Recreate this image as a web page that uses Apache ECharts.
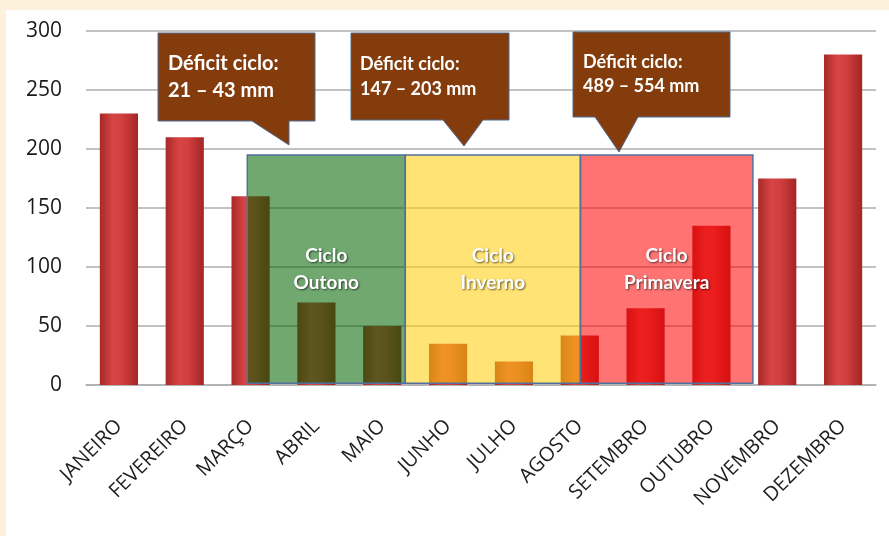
<!DOCTYPE html>
<html>
<head>
<meta charset="utf-8">
<script src="https://cdn.jsdelivr.net/npm/echarts@6/dist/echarts.min.js"></script>
<style>
html,body{margin:0;padding:0;background:#FDF1DC;}
#chart{width:889px;height:536px;}
</style>
</head>
<body>
<div id="chart"></div>
<script>
// ---- data ----
var months = ['JANEIRO','FEVEREIRO','MARÇO','ABRIL','MAIO','JUNHO','JULHO','AGOSTO','SETEMBRO','OUTUBRO','NOVEMBRO','DEZEMBRO'];
var rainfall = [230, 210, 160, 70, 50, 35, 20, 42, 65, 135, 175, 280];
var yTicks = [0, 50, 100, 150, 200, 250, 300];

// cycle overlays (positions along the months axis, 0..12, and height in mm)
var cycleNames = ['Ciclo\nOutono', 'Ciclo\nInverno', 'Ciclo\nPrimavera'];
var cycleStart = [2.45, 4.85, 7.51];
var cycleEnd   = [4.85, 7.51, 10.13];
var cycleTop   = [195, 195, 195];
var cycleBottom = 1.5;

// deficit callouts
var deficitTitle = ['Déficit ciclo:', 'Déficit ciclo:', 'Déficit ciclo:'];
var deficitRange = ['21 – 43 mm', '147 – 203 mm', '489 – 554 mm'];

var cycleColors = ['rgba(0,100,0,0.56)', 'rgba(255,205,10,0.57)', 'rgba(255,0,0,0.55)'];

var chart = echarts.init(document.getElementById('chart'), null, {renderer:'canvas'});

var barColor = new echarts.graphic.LinearGradient(0,0,1,0,[
  {offset:0, color:'#A82828'},
  {offset:0.35, color:'#D84545'},
  {offset:0.6, color:'#D03E3E'},
  {offset:1, color:'#A32525'}
]);

var cycleData = cycleNames.map(function(n,i){
  return [cycleStart[i], cycleEnd[i], cycleTop[i], cycleBottom, i];
});

function callout(pts, tx, ty1, ty2, fs, i){
  return [
    {type:'polygon', z:200, shape:{points:pts},
     style:{fill:'#843C0C', stroke:'#4E6A94', lineWidth:1}},
    {type:'text', z:201, x:tx, y:ty1,
     style:{text:deficitTitle[i], fill:'#fff', font:'bold '+fs+'px Lato', verticalAlign:'middle'}},
    {type:'text', z:201, x:tx, y:ty2,
     style:{text:deficitRange[i], fill:'#fff', font:'bold '+fs+'px Lato', verticalAlign:'middle'}}
  ];
}

var graphics = [
  {type:'rect', z:-100, silent:true, shape:{x:6,y:10,width:900,height:540}, style:{fill:'#ffffff'}}
].concat(
  callout([[158,33],[315,33],[315,121],[289,121],[289,145],[252,121],[158,121]], 168, 64, 91, 20, 0),
  callout([[351,33],[509,33],[509,120],[483,120],[464,146],[443,120],[351,120]], 360, 64, 89, 18, 1),
  callout([[573,32],[730,32],[730,117],[638,117],[619,152],[595,117],[573,117]], 583, 62, 86, 18, 2)
);

chart.setOption({
  backgroundColor:'#FDF1DC',
  animation:false,
  grid:{left:86, right:13, top:31, bottom:151},
  xAxis:[
    {type:'category', data:months, boundaryGap:true,
     axisLine:{lineStyle:{color:'#AEAEAE', width:1.5}},
     axisTick:{show:false},
     axisLabel:{rotate:45, margin:38, color:'#1E1E1E', fontSize:20, fontFamily:'Open Sans', interval:0}},
    {type:'value', min:0, max:12, show:false}
  ],
  yAxis:{type:'value', min:0, max:300, interval:50,
    axisLine:{show:false}, axisTick:{show:false},
    splitLine:{lineStyle:{color:'#AEAEAE', width:1.5}},
    axisLabel:{margin:24, color:'#1A1A1A', fontSize:21, fontFamily:'Open Sans',
      formatter:function(v){ return yTicks.indexOf(v)>=0 ? String(v) : ''; }}
  },
  series:[
    {type:'bar', data:rainfall, barWidth:'58%', z:2,
     itemStyle:{color:barColor}},
    {type:'custom', xAxisIndex:1, yAxisIndex:0, z:5, silent:true, clip:false,
     data:cycleData,
     renderItem:function(params, api){
       var i = api.value(4);
       var p0 = api.coord([api.value(0), api.value(2)]);
       var p1 = api.coord([api.value(1), api.value(3)]);
       return {
         type:'rect',
         shape:{x:p0[0], y:p0[1], width:p1[0]-p0[0], height:p1[1]-p0[1]},
         style:{fill:cycleColors[i], stroke:'#52709E', lineWidth:1.5},
         textContent:{style:{text:cycleNames[i], fill:'#fff', font:'bold 19px Lato', lineHeight:27, align:'center',
           textShadowColor:'rgba(0,0,0,0.6)', textShadowBlur:2, textShadowOffsetX:1, textShadowOffsetY:1}},
         textConfig:{position:'inside'}
       };
     }}
  ],
  graphic:graphics
});
</script>
</body>
</html>
